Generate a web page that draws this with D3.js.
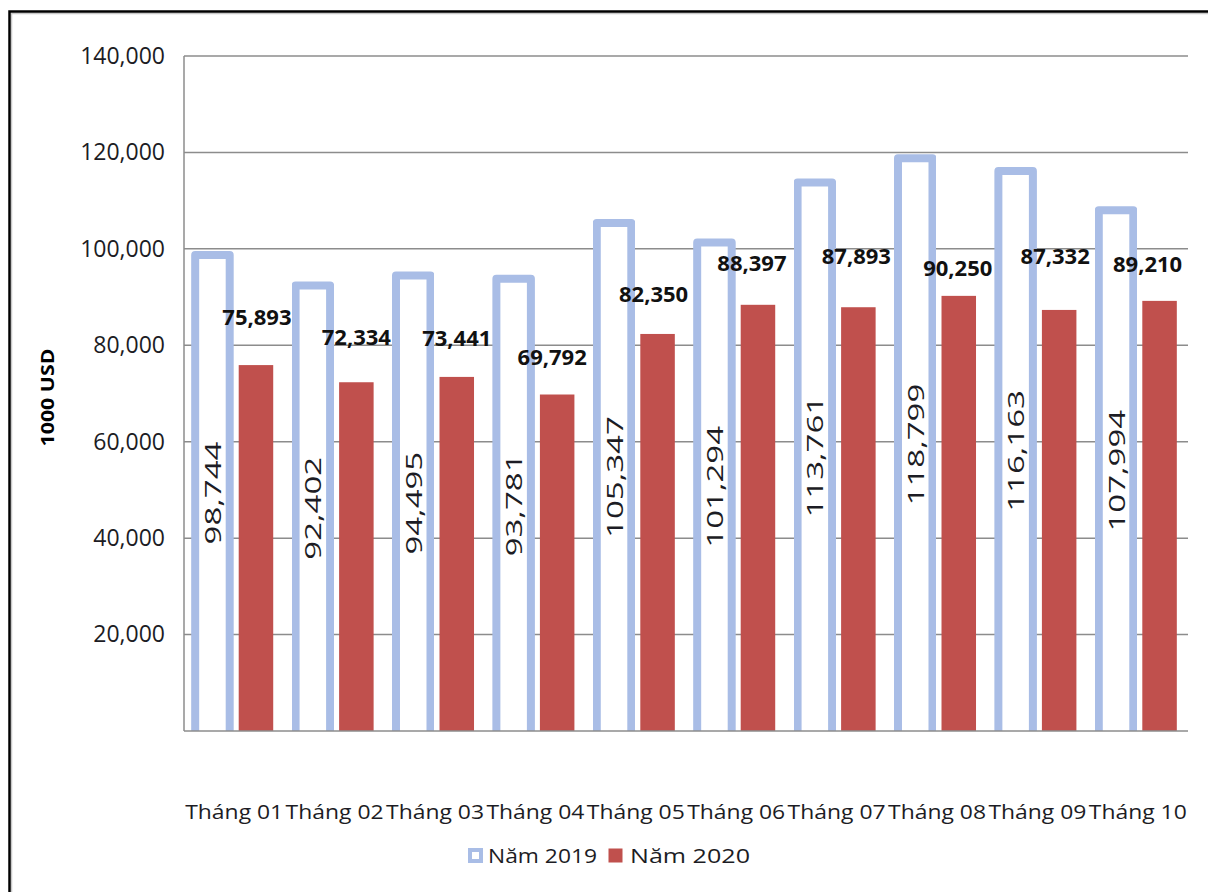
<!DOCTYPE html>
<html>
<head>
<meta charset="utf-8">
<script src="https://cdn.jsdelivr.net/npm/d3@7"></script>
<style>
  body { margin: 0; background: #fff; }
  svg { display: block; }
</style>
</head>
<body>
<svg id="chart" width="1208" height="892"></svg>
<script>
// Monthly values, 1000 USD
const months = ["Tháng 01", "Tháng 02", "Tháng 03", "Tháng 04", "Tháng 05",
                "Tháng 06", "Tháng 07", "Tháng 08", "Tháng 09", "Tháng 10"];
const values2019 = [98744, 92402, 94495, 93781, 105347, 101294, 113761, 118799, 116163, 107994];
const values2020 = [75893, 72334, 73441, 69792, 82350, 88397, 87893, 90250, 87332, 89210];
const seriesNames = ["Năm 2019", "Năm 2020"];
const yTicks = [20000, 40000, 60000, 80000, 100000, 120000, 140000];
const yTitle = "1000 USD";

// Hand-placed nudges for the 2020 value labels (px): lift above bar top, horizontal shift
const labelLift  = [49, 46, 40, 39, 41, 43, 52, 29, 55, 38];
const labelShift = [1, 0, 0, -5, -4, -6, -2, -1, -4, -12];

const FONT = "'Open Sans', 'Noto Sans', sans-serif";
const COL_2019 = "#a9bde6";
const COL_2020 = "#c0504d";
const GRID = "#8c8c8c";
const TEXT = "#1c1c24";

const svg = d3.select("#chart");

// outer frame
svg.append("rect")
  .attr("x", 11.5).attr("y", 13.5).attr("width", 1210).attr("height", 890)
  .attr("fill", "none").attr("stroke", "#c8c8c8").attr("stroke-width", 1.5);
svg.append("rect")
  .attr("x", 9.5).attr("y", 11.5).attr("width", 1210).attr("height", 890)
  .attr("fill", "none").attr("stroke", "#000").attr("stroke-width", 2.5);

const plot = { left: 184, right: 1188, top: 56, bottom: 731 };

const x = d3.scaleBand().domain(months).range([plot.left, plot.right]).padding(0);
const xs = d3.scaleBand().domain(seriesNames).range([0, x.bandwidth()])
  .paddingInner(0.207).paddingOuter(0.257);
const y = d3.scaleLinear().domain([0, 140000]).range([plot.bottom, plot.top]);

// gridlines
svg.append("g").selectAll("line").data(yTicks).join("line")
  .attr("x1", plot.left).attr("x2", plot.right)
  .attr("y1", d => y(d)).attr("y2", d => y(d))
  .attr("stroke", GRID).attr("stroke-width", 1.5);

// y axis labels
const yAxis = d3.axisLeft(y).tickValues(yTicks)
  .tickFormat(d3.format(",")).tickSize(0).tickPadding(19);
const yg = svg.append("g").attr("transform", `translate(${plot.left},0)`).call(yAxis);
yg.select(".domain").remove();
yg.selectAll("text").attr("font-family", FONT).attr("font-size", 23).attr("fill", TEXT);

// y title
svg.append("text")
  .attr("transform", `translate(54,${(plot.top + plot.bottom) / 2 + 4}) rotate(-90)`)
  .attr("text-anchor", "middle")
  .attr("font-family", FONT).attr("font-weight", 700).attr("font-size", 17)
  .attr("textLength", 98).attr("lengthAdjust", "spacingAndGlyphs")
  .attr("fill", "#000").text(yTitle);

const defs = svg.append("defs");
defs.append("clipPath").attr("id", "plotclip")
  .append("rect").attr("x", plot.left).attr("y", 0)
  .attr("width", plot.right - plot.left).attr("height", plot.bottom);
defs.append("filter").attr("id", "soft")
  .append("feGaussianBlur").attr("stdDeviation", 0.6);

const bars = svg.append("g").attr("clip-path", "url(#plotclip)");

// 2019: white bars with a light blue outline, open at the base
bars.selectAll("path.b19").data(values2019).join("path")
  .attr("class", "b19")
  .attr("d", (d, i) => {
    const x0 = x(months[i]) + xs(seriesNames[0]);
    const x1 = x0 + xs.bandwidth();
    return `M${x0},${plot.bottom + 6}L${x0},${y(d)}L${x1},${y(d)}L${x1},${plot.bottom + 6}`;
  })
  .attr("fill", "#fff").attr("stroke", COL_2019).attr("stroke-width", 8)
  .attr("stroke-linejoin", "round").attr("filter", "url(#soft)");

// 2020: solid red bars
bars.selectAll("rect.b20").data(values2020).join("rect")
  .attr("class", "b20")
  .attr("x", (d, i) => x(months[i]) + xs(seriesNames[1]))
  .attr("width", xs.bandwidth())
  .attr("y", d => y(d))
  .attr("height", d => plot.bottom - y(d))
  .attr("fill", COL_2020);

// axis lines
svg.append("line").attr("x1", plot.left).attr("x2", plot.left)
  .attr("y1", plot.top).attr("y2", plot.bottom)
  .attr("stroke", GRID).attr("stroke-width", 1.5);
svg.append("line").attr("x1", plot.left).attr("x2", plot.right)
  .attr("y1", plot.bottom).attr("y2", plot.bottom)
  .attr("stroke", GRID).attr("stroke-width", 1.5);

// 2019 value labels, rotated inside the bars
svg.append("g").selectAll("text").data(values2019).join("text")
  .attr("transform", (d, i) => {
    const cx = x(months[i]) + xs(seriesNames[0]) + xs.bandwidth() / 2;
    const cy = (y(d) + plot.bottom) / 2;
    return `translate(${cx},${cy}) rotate(-90) scale(1.5,1)`;
  })
  .attr("text-anchor", "middle").attr("dominant-baseline", "central")
  .attr("font-family", FONT).attr("font-size", 22).attr("fill", TEXT)
  .text(d => d3.format(",")(d));

// 2020 value labels above the bars
svg.append("g").selectAll("text").data(values2020).join("text")
  .attr("x", (d, i) => x(months[i]) + xs(seriesNames[1]) + xs.bandwidth() / 2 + labelShift[i])
  .attr("y", (d, i) => y(d) - labelLift[i])
  .attr("text-anchor", "middle").attr("dominant-baseline", "central")
  .attr("font-family", FONT).attr("font-weight", 700).attr("font-size", 22).attr("fill", "#111")
  .text(d => d3.format(",")(d));

// category labels
const xAxis = d3.axisBottom(x).tickSize(0).tickPadding(0);
const xg = svg.append("g").attr("transform", `translate(0,${plot.bottom + 81})`).call(xAxis);
xg.select(".domain").remove();
xg.selectAll("text").attr("font-family", FONT).attr("font-size", 20).attr("fill", TEXT)
  .attr("dy", "0.35em")
  .attr("textLength", 98).attr("lengthAdjust", "spacingAndGlyphs");

// legend
const legend = svg.append("g").attr("transform", "translate(467,847)");
const items = legend.selectAll("g").data(seriesNames).join("g")
  .attr("transform", (d, i) => `translate(${i * 140},0)`);
items.append("rect")
  .attr("x", (d, i) => i ? 1.5 : 3).attr("y", (d, i) => i ? 1.5 : 3)
  .attr("width", (d, i) => i ? 14 : 11).attr("height", (d, i) => i ? 14 : 11)
  .attr("fill", (d, i) => i ? COL_2020 : "#fff")
  .attr("stroke", (d, i) => i ? "none" : COL_2019)
  .attr("stroke-width", 4);
items.append("text")
  .attr("x", (d, i) => i ? 23 : 21).attr("y", 8.5).attr("dominant-baseline", "central")
  .attr("font-family", FONT).attr("font-size", 20).attr("fill", TEXT)
  .attr("textLength", (d, i) => i ? 120 : 109).attr("lengthAdjust", "spacingAndGlyphs")
  .text(d => d);
</script>
</body>
</html>
